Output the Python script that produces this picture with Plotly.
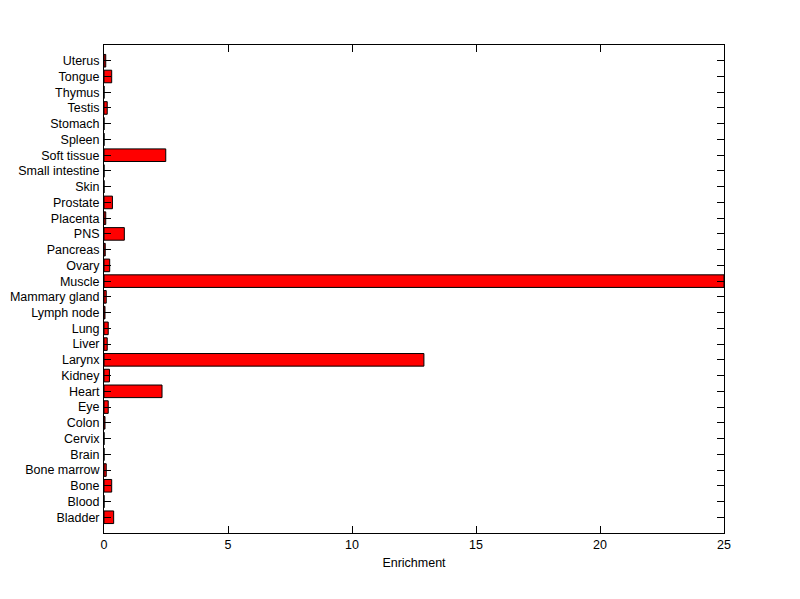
import plotly.graph_objects as go

tissues = ["Bladder", "Blood", "Bone", "Bone marrow", "Brain", "Cervix", "Colon", "Eye",
           "Heart", "Kidney", "Larynx", "Liver", "Lung", "Lymph node", "Mammary gland",
           "Muscle", "Ovary", "Pancreas", "PNS", "Placenta", "Prostate", "Skin",
           "Small intestine", "Soft tissue", "Spleen", "Stomach", "Testis", "Thymus",
           "Tongue", "Uterus"]
enrichment = [0.39, 0.0, 0.31, 0.09, 0.0, 0.0, 0.04, 0.17,
              2.34, 0.22, 12.9, 0.13, 0.17, 0.04, 0.09,
              25.0, 0.23, 0.05, 0.82, 0.07, 0.34, 0.0,
              0.0, 2.49, 0.0, 0.0, 0.13, 0.0,
              0.31, 0.07]
x_ticks = [0, 5, 10, 15, 20, 25]

idx = list(range(len(tissues)))

fig = go.Figure(go.Bar(
    x=enrichment, y=idx, orientation="h",
    marker=dict(color="#ff0000", line=dict(color="black", width=1)),
    width=0.8,
))

font = dict(family="Liberation Sans, Arial, sans-serif", size=12.5, color="black")
fig.update_layout(
    width=800, height=599,
    margin=dict(l=96, r=84, t=37, b=74),
    paper_bgcolor="white", plot_bgcolor="white",
    font=font, showlegend=False,
)
fig.update_xaxes(
    range=[0, 25], tickvals=x_ticks, ticks="inside", ticklen=7, tickcolor="black",
    showline=True, linecolor="black", linewidth=1, mirror="ticks",
    showgrid=False, zeroline=False, automargin=False,
    title=dict(text="Enrichment", font=font, standoff=7),
)
fig.update_yaxes(
    range=[-1, len(tissues)], tickvals=idx, ticktext=tissues,
    ticks="inside", ticklen=7, tickcolor="black",
    showline=True, linecolor="black", linewidth=1, mirror="ticks",
    showgrid=False, zeroline=False, ticklabelstandoff=1, automargin=False,
)
fig.write_html("out.html")
